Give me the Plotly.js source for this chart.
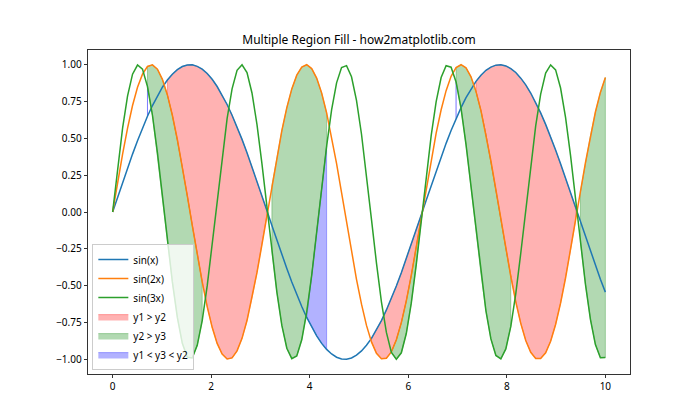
<!DOCTYPE html>
<html>
<head>
<meta charset="utf-8">
<script src="https://cdn.plot.ly/plotly-3.0.1.min.js"></script>
<style>html,body{margin:0;padding:0;background:#fff;}#chart{width:700px;height:420px;}</style>
</head>
<body>
<div id="chart"></div>
<script>
const xValues = [0, 0.101, 0.202, 0.303, 0.404, 0.505, 0.606, 0.707, 0.808, 0.909, 1.010, 1.111, 1.212, 1.313, 1.414, 1.515, 1.616, 1.717, 1.818, 1.919, 2.020, 2.121, 2.222, 2.323, 2.424, 2.525, 2.626, 2.727, 2.828, 2.929, 3.030, 3.131, 3.232, 3.333, 3.434, 3.535, 3.636, 3.737, 3.838, 3.939, 4.040, 4.141, 4.242, 4.343, 4.444, 4.545, 4.646, 4.747, 4.848, 4.949, 5.051, 5.152, 5.253, 5.354, 5.455, 5.556, 5.657, 5.758, 5.859, 5.960, 6.061, 6.162, 6.263, 6.364, 6.465, 6.566, 6.667, 6.768, 6.869, 6.970, 7.071, 7.172, 7.273, 7.374, 7.475, 7.576, 7.677, 7.778, 7.879, 7.980, 8.081, 8.182, 8.283, 8.384, 8.485, 8.586, 8.687, 8.788, 8.889, 8.990, 9.091, 9.192, 9.293, 9.394, 9.495, 9.596, 9.697, 9.798, 9.899, 10.0];

const sinX = [0.000, 0.101, 0.201, 0.298, 0.393, 0.484, 0.570, 0.650, 0.723, 0.789, 0.847, 0.896, 0.936, 0.967, 0.988, 0.998, 0.999, 0.989, 0.970, 0.940, 0.901, 0.852, 0.795, 0.730, 0.657, 0.578, 0.493, 0.403, 0.308, 0.211, 0.111, 0.010, -0.091, -0.191, -0.289, -0.384, -0.475, -0.561, -0.642, -0.716, -0.783, -0.841, -0.892, -0.933, -0.964, -0.986, -0.998, -0.999, -0.991, -0.972, -0.943, -0.905, -0.858, -0.801, -0.737, -0.665, -0.586, -0.502, -0.412, -0.318, -0.221, -0.121, -0.021, 0.080, 0.180, 0.279, 0.374, 0.466, 0.553, 0.634, 0.709, 0.776, 0.836, 0.887, 0.929, 0.962, 0.984, 0.997, 1.000, 0.992, 0.974, 0.947, 0.909, 0.863, 0.808, 0.744, 0.673, 0.595, 0.511, 0.421, 0.328, 0.231, 0.131, 0.031, -0.070, -0.170, -0.269, -0.365, -0.457, -0.544];

const sin2X = [0.000, 0.201, 0.393, 0.570, 0.723, 0.847, 0.936, 0.988, 0.999, 0.970, 0.901, 0.795, 0.657, 0.493, 0.308, 0.111, -0.091, -0.289, -0.475, -0.642, -0.783, -0.892, -0.964, -0.998, -0.991, -0.943, -0.858, -0.737, -0.586, -0.412, -0.221, -0.021, 0.180, 0.374, 0.553, 0.709, 0.836, 0.929, 0.984, 1.000, 0.974, 0.909, 0.808, 0.673, 0.511, 0.328, 0.131, -0.070, -0.269, -0.457, -0.626, -0.770, -0.882, -0.959, -0.996, -0.993, -0.950, -0.868, -0.751, -0.603, -0.431, -0.241, -0.041, 0.160, 0.355, 0.535, 0.694, 0.824, 0.921, 0.981, 1.000, 0.979, 0.918, 0.819, 0.688, 0.528, 0.347, 0.152, -0.050, -0.249, -0.438, -0.610, -0.756, -0.872, -0.953, -0.994, -0.995, -0.956, -0.878, -0.764, -0.619, -0.449, -0.261, -0.062, 0.140, 0.336, 0.518, 0.679, 0.812, 0.913];

const sin3X = [0.000, 0.298, 0.570, 0.789, 0.936, 0.998, 0.970, 0.852, 0.657, 0.403, 0.111, -0.191, -0.475, -0.716, -0.892, -0.986, -0.991, -0.905, -0.737, -0.502, -0.221, 0.080, 0.374, 0.634, 0.836, 0.962, 1.000, 0.947, 0.808, 0.595, 0.328, 0.031, -0.269, -0.544, -0.770, -0.925, -0.996, -0.977, -0.868, -0.680, -0.431, -0.142, 0.160, 0.447, 0.694, 0.877, 0.981, 0.994, 0.918, 0.758, 0.528, 0.251, -0.050, -0.345, -0.610, -0.818, -0.953, -1.000, -0.956, -0.825, -0.619, -0.357, -0.062, 0.239, 0.518, 0.750, 0.913, 0.993, 0.983, 0.883, 0.703, 0.458, 0.172, -0.130, -0.420, -0.671, -0.862, -0.974, -0.997, -0.930, -0.777, -0.554, -0.280, 0.019, 0.316, 0.585, 0.800, 0.943, 0.999, 0.965, 0.842, 0.643, 0.385, 0.092, -0.209, -0.491, -0.729, -0.900, -0.989, -0.988];

const lineNames = ['sin(x)', 'sin(2x)', 'sin(3x)'];
const fillNames = ['y1 > y2', 'y2 > y3', 'y1 < y3 < y2'];
const xTicks = [0, 2, 4, 6, 8, 10];
const yTicks = [-1.0, -0.75, -0.5, -0.25, 0.0, 0.25, 0.5, 0.75, 1.0];

// Build fill polygons like matplotlib fill_between(where=...)
function fillPolys(ya, yb, cond) {
  const xs = [], ys = [];
  let i = 0;
  const n = xValues.length;
  while (i < n) {
    if (!cond(i)) { i++; continue; }
    let j = i;
    while (j + 1 < n && cond(j + 1)) j++;
    for (let k = i; k <= j; k++) { xs.push(xValues[k]); ys.push(ya[k]); }
    for (let k = j; k >= i; k--) { xs.push(xValues[k]); ys.push(yb[k]); }
    xs.push(xValues[i]); ys.push(ya[i]);
    xs.push(null); ys.push(null);
    i = j + 1;
  }
  return {xs, ys};
}

const red = fillPolys(sinX, sin2X, i => sinX[i] > sin2X[i]);
const green = fillPolys(sin2X, sin3X, i => sin2X[i] > sin3X[i]);
const blue = fillPolys(sinX, sin3X, i => sinX[i] < sin3X[i] && sin3X[i] < sin2X[i]);

const fillColors = ['rgba(255,0,0,0.3)', 'rgba(0,128,0,0.3)', 'rgba(0,0,255,0.3)'];
const lineColors = ['#1f77b4', '#ff7f0e', '#2ca02c'];

const traces = [];
[red, green, blue].forEach((p, k) => {
  traces.push({
    x: p.xs, y: p.ys, type: 'scatter', mode: 'lines', fill: 'toself',
    fillcolor: fillColors[k], line: {color: fillColors[k], width: 1},
    name: fillNames[k], legendrank: 10 + k, connectgaps: false, hoverinfo: 'skip'
  });
});
[sinX, sin2X, sin3X].forEach((ys, k) => {
  traces.push({
    x: xValues, y: ys, type: 'scatter', mode: 'lines',
    line: {color: lineColors[k], width: 1.5},
    name: lineNames[k], legendrank: 1 + k
  });
});

const font = 'Noto Sans, Open Sans, DejaVu Sans, sans-serif';
const layout = {
  width: 700, height: 420,
  margin: {l: 87.5, r: 70, t: 50, b: 46, pad: 0},
  paper_bgcolor: '#fff', plot_bgcolor: '#fff',
  font: {family: font, size: 10, color: '#000'},
  title: {text: 'Multiple Region Fill - how2matplotlib.com', font: {family: font, size: 12, color: '#000'},
          x: 0.5, xref: 'paper', xanchor: 'center', y: 1, yref: 'paper', yanchor: 'bottom', pad: {b: 6}},
  xaxis: {range: [-0.5, 10.5], tickvals: xTicks, ticktext: xTicks.map(v => String(v)),
          ticks: 'outside', ticklen: 3.5, tickwidth: 0.8, tickcolor: '#000',
          showline: true, linecolor: '#000', linewidth: 0.8, mirror: true,
          showgrid: false, zeroline: false, tickfont: {size: 10}},
  yaxis: {range: [-1.1, 1.1], tickvals: yTicks, ticktext: yTicks.map(v => (v < 0 ? '\u2212' : '') + Math.abs(v).toFixed(2)),
          ticks: 'outside', ticklen: 3.5, tickwidth: 0.8, tickcolor: '#000',
          showline: true, linecolor: '#000', linewidth: 0.8, mirror: true,
          showgrid: false, zeroline: false, tickfont: {size: 10}},
  showlegend: true,
  legend: {x: 0.008, y: 0.012, xanchor: 'left', yanchor: 'bottom', bgcolor: 'rgba(255,255,255,0.8)',
           bordercolor: '#cccccc', borderwidth: 1, font: {family: font, size: 10, color: '#000'},
           traceorder: 'normal', itemwidth: 30, tracegroupgap: 0},
  hovermode: false
};

Plotly.newPlot('chart', traces, layout, {staticPlot: true, displayModeBar: false});
</script>
</body>
</html>
